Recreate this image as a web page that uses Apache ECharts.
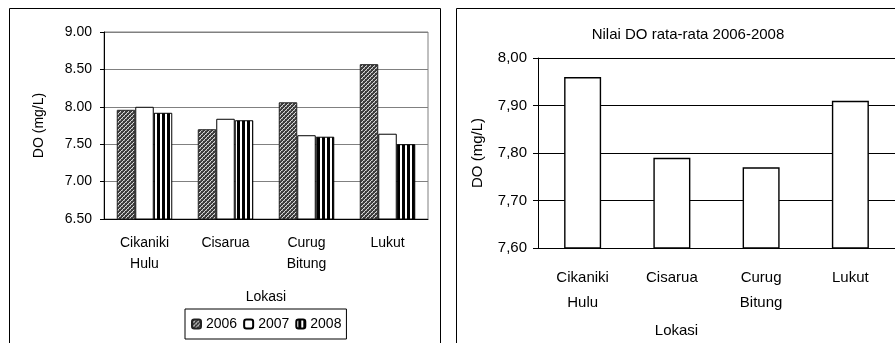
<!DOCTYPE html>
<html>
<head>
<meta charset="utf-8">
<script src="https://cdn.jsdelivr.net/npm/echarts@6/dist/echarts.min.js"></script>
<style>
  html, body { margin: 0; padding: 0; background: #fff; }
  #chart { width: 895px; height: 343px; }
</style>
</head>
<body>
<div id="chart"></div>
<script>
// Dissolved oxygen (DO) per sampling location
const categories = ['Cikaniki\nHulu', 'Cisarua', 'Curug\nBitung', 'Lukut'];
const years = ['2006', '2007', '2008'];
const do2006 = [7.96, 7.70, 8.06, 8.57];
const do2007 = [8.00, 7.84, 7.62, 7.64];
const do2008 = [7.92, 7.82, 7.60, 7.50];
// Mean DO 2006-2008
const doMean = [7.96, 7.79, 7.77, 7.91];

const leftTicks = { min: 6.5, max: 9.0, interval: 0.5 };
const rightTicks = { min: 7.6, max: 8.0, interval: 0.1 };

const FONT = '"Liberation Sans", Arial, sans-serif';

// Diagonal hatch fill for 2006
function hatchPattern() {
  const c = document.createElement('canvas');
  c.width = 4; c.height = 4;
  const g = c.getContext('2d');
  g.fillStyle = '#3c3c3c';
  g.fillRect(0, 0, 4, 4);
  g.fillStyle = '#d8d8d8';
  g.fillRect(3, 0, 1, 1);
  g.fillRect(2, 1, 1, 1);
  g.fillRect(1, 2, 1, 1);
  g.fillRect(0, 3, 1, 1);
  g.fillStyle = '#8a8a8a';
  g.fillRect(0, 0, 1, 1);
  g.fillRect(2, 2, 1, 1);
  return c;
}
// Vertical stripe fill for 2008
function stripePattern() {
  const c = document.createElement('canvas');
  c.width = 5; c.height = 1;
  const g = c.getContext('2d');
  g.fillStyle = '#ffffff';
  g.fillRect(0, 0, 5, 1);
  g.fillStyle = '#000000';
  g.fillRect(2, 0, 3, 1);
  return c;
}

const chart = echarts.init(document.getElementById('chart'), null, { renderer: 'canvas' });

const txt = { color: '#000', fontFamily: FONT };

chart.setOption({
  animation: false,
  backgroundColor: '#fff',
  title: {
    text: 'Nilai DO rata-rata 2006-2008',
    left: 683, top: 22, textAlign: 'center',
    textStyle: Object.assign({ fontSize: 15, fontWeight: 'normal' }, txt)
  },
  graphic: [
    { type: 'rect', shape: { x: 9.5, y: 8.5, width: 431, height: 345 }, style: { fill: 'none', stroke: '#000', lineWidth: 1 }, z: -10 },
    { type: 'rect', shape: { x: 456.5, y: 8.5, width: 460, height: 345 }, style: { fill: 'none', stroke: '#000', lineWidth: 1 }, z: -10 }
  ],
  legend: {
    data: years,
    left: 185, top: 309,
    padding: [8, 5, 8, 6],
    itemGap: 6,
    itemWidth: 9, itemHeight: 9,
    borderColor: '#000', borderWidth: 1,
    textStyle: Object.assign({ fontSize: 14 }, txt)
  },
  grid: [
    { left: 104, top: 32, width: 324, height: 187, show: true, borderColor: '#808080', borderWidth: 1, backgroundColor: 'transparent' },
    { left: 538, top: 58, width: 358, height: 192 }
  ],
  xAxis: [
    {
      gridIndex: 0, type: 'category', data: categories,
      name: 'Lokasi', nameLocation: 'middle', nameGap: 71,
      nameTextStyle: Object.assign({ fontSize: 14 }, txt),
      axisLine: { lineStyle: { color: '#000', width: 1 } },
      axisTick: { length: 5, lineStyle: { color: '#000' } },
      axisLabel: Object.assign({ fontSize: 14, lineHeight: 21, margin: 14 }, txt)
    },
    {
      gridIndex: 1, type: 'category', data: categories,
      name: 'Lokasi', nameLocation: 'middle', nameGap: 75,
      nameTextStyle: Object.assign({ fontSize: 15, padding: [0, 80, 0, 0] }, txt),
      axisLine: { lineStyle: { color: '#000', width: 1 } },
      axisTick: { length: 5, lineStyle: { color: '#000' } },
      axisLabel: Object.assign({ fontSize: 15, lineHeight: 25, margin: 17 }, txt)
    }
  ],
  yAxis: [
    {
      gridIndex: 0, type: 'value',
      min: leftTicks.min, max: leftTicks.max, interval: leftTicks.interval,
      name: 'DO (mg/L)', nameLocation: 'middle', nameGap: 58,
      nameTextStyle: Object.assign({ fontSize: 14 }, txt),
      axisLine: { show: true, lineStyle: { color: '#000', width: 1 } },
      axisTick: { show: true, length: 4, lineStyle: { color: '#000' } },
      splitLine: { lineStyle: { color: '#808080', width: 1 } },
      axisLabel: Object.assign({ fontSize: 14, margin: 12, formatter: v => v.toFixed(2) }, txt)
    },
    {
      gridIndex: 1, type: 'value',
      min: rightTicks.min, max: rightTicks.max, interval: rightTicks.interval,
      name: 'DO (mg/L)', nameLocation: 'middle', nameGap: 53,
      nameTextStyle: Object.assign({ fontSize: 15 }, txt),
      axisLine: { show: true, lineStyle: { color: '#000', width: 1 } },
      axisTick: { show: true, length: 5, lineStyle: { color: '#000' } },
      splitLine: { lineStyle: { color: '#000', width: 1 } },
      axisLabel: Object.assign({ fontSize: 15, margin: 11, formatter: v => v.toFixed(2).replace('.', ',') }, txt)
    }
  ],
  series: [
    {
      name: years[0], type: 'bar', xAxisIndex: 0, yAxisIndex: 0, data: do2006,
      barWidth: 18.5, barGap: '0%',
      itemStyle: { color: { image: hatchPattern(), repeat: 'repeat' }, borderColor: '#222', borderWidth: 1 }
    },
    {
      name: years[1], type: 'bar', xAxisIndex: 0, yAxisIndex: 0, data: do2007,
      barWidth: 18.5, barGap: '0%',
      itemStyle: { color: '#fff', borderColor: '#000', borderWidth: 1 }
    },
    {
      name: years[2], type: 'bar', xAxisIndex: 0, yAxisIndex: 0, data: do2008,
      barWidth: 18.5, barGap: '0%',
      itemStyle: { color: { image: stripePattern(), repeat: 'repeat' }, borderColor: '#000', borderWidth: 1 }
    },
    {
      name: 'Rata-rata', type: 'bar', xAxisIndex: 1, yAxisIndex: 1, data: doMean,
      barWidth: 37,
      itemStyle: { color: '#fff', borderColor: '#000', borderWidth: 1.4 }
    }
  ]
});
</script>
</body>
</html>
